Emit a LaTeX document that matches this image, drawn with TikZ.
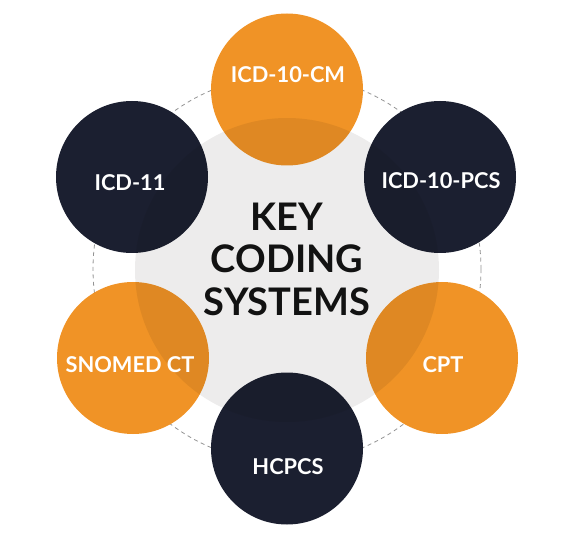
\documentclass[tikz,border=0pt]{standalone}
\usepackage{fontspec}
\setmainfont{Lato}
\definecolor{codeorange}{RGB}{240,147,38}
\definecolor{codenavy}{RGB}{27,31,48}

\begin{document}
\begin{tikzpicture}[x=1pt, y=-1pt,
      system/.style={circle, minimum size=152pt, inner sep=0pt},
      orangesys/.style={system, fill=codeorange},
      navysys/.style={system, fill=codenavy},
      syslabel/.style={text=white, font=\fontsize{21.8}{26}\selectfont\bfseries},
      ring/.style={draw=gray!85, line width=0.8pt, dash pattern=on 4pt off 3.5pt}]
    \useasboundingbox (0,0) rectangle (568,540);
    \coordinate (hub) at (287,269);
    \draw[ring] (hub) circle (194pt);
    % the six systems
    \node[orangesys] (cm) at (287,89.5) {};
    \node[navysys] (icd11) at (132,177) {};
    \node[navysys] (pcs) at (440,177) {};
    \node[orangesys] (snomed) at (133,358) {};
    \node[orangesys] (cpt) at (442,358) {};
    \node[navysys] (hcpcs) at (287,448.5) {};
    % grey core laid over them
    \node[circle, minimum size=304pt, inner sep=0pt, fill=black!95!orange, fill opacity=0.075] (core) at (287,270) {};
    \node[align=center, text=black!93, font=\fontsize{38}{42.5}\selectfont\bfseries] (title) at (287,259) {KEY\\CODING\\SYSTEMS};
    \node[syslabel] (cm-label) at (288,74.5) {ICD-10-CM};
    \node[syslabel] (icd11-label) at (130,183) {ICD-11};
    \node[syslabel] (pcs-label) at (441,181) {ICD-10-PCS};
    \node[syslabel] (snomed-label) at (130,364.5) {SNOMED CT};
    \node[syslabel] (cpt-label) at (443,365) {CPT};
    \node[syslabel] (hcpcs-label) at (288,466.5) {HCPCS};
\end{tikzpicture}
\end{document}
